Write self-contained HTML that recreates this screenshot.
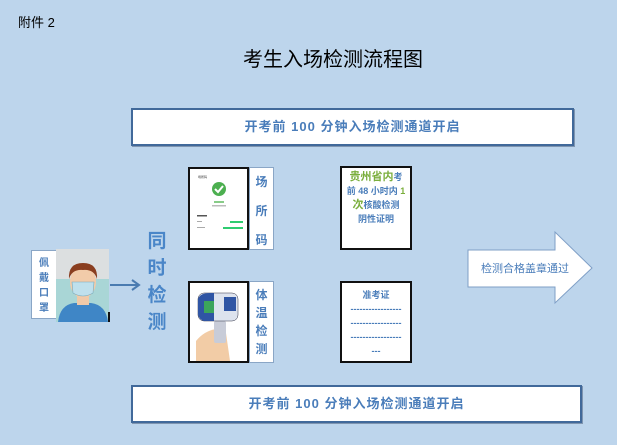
<!DOCTYPE html>
<html><head><meta charset="utf-8"><style>
body{margin:0;width:617px;height:445px;background:#bdd5ec;position:relative;overflow:hidden;font-family:"Liberation Sans","Noto Sans CJK SC",sans-serif}
.a{position:absolute}
.bar{background:#fff;border:2px solid #41699a;box-shadow:1px 1px 0 #7f95b0;color:#4a7dba;font-weight:bold;font-size:13px;text-align:center;letter-spacing:1px;box-sizing:border-box}
.card{background:#fff;border:2px solid #111;box-sizing:border-box}
.lbl{background:#fff;border:1px solid #8aa6c6;box-sizing:border-box;color:#4a7dba;font-weight:bold;font-size:11px;text-align:center}
</style></head><body>
<div class="a" style="left:18px;top:12px;font-size:13px">附件 2</div>
<div class="a" style="left:243px;top:43px;font-size:20px">考生入场检测流程图</div>
<div class="a bar" style="left:131px;top:108px;width:443px;height:38px;line-height:34px">开考前 100 分钟入场检测通道开启</div>
<div class="a bar" style="left:131px;top:385px;width:451px;height:38px;line-height:34px">开考前 100 分钟入场检测通道开启</div>

<div class="a lbl" style="left:31px;top:250px;width:26px;height:69px;padding-top:5px;line-height:15px;font-size:10px">佩<br>戴<br>口<br>罩</div>
<svg class="a" style="left:56px;top:249px" width="56" height="74">
<rect width="53" height="73" fill="#dcdfe0"/><rect y="30" width="53" height="43" fill="#a9d6d6"/>
<path d="M2 73 Q4 56 18 54 L35 54 Q50 56 52 73Z" fill="#3f86c6"/>
<rect x="21" y="44" width="12" height="12" fill="#f0c9a8"/>
<ellipse cx="27" cy="33" rx="13" ry="16" fill="#f2cba9"/>
<path d="M13 30 Q12 14 27 14 Q42 14 41 30 Q38 20 27 21 Q16 20 13 30Z" fill="#8a3e1f"/>
<path d="M16 33 L38 33 L37 44 Q27 50 17 44Z" fill="#bfe0ec" stroke="#7ab" stroke-width=".6"/>
<rect x="52" y="63" width="2" height="10" fill="#111"/>
</svg>
<svg class="a" style="left:108px;top:278px" width="34" height="14"><line x1="2" y1="7" x2="30" y2="7" stroke="#4a7bb0" stroke-width="2"/><path d="M24 2 L31 7 L24 12" fill="none" stroke="#4a7bb0" stroke-width="2"/></svg>
<div class="a" style="left:146px;top:228px;width:22px;color:#4a86c8;font-weight:bold;font-size:19px;line-height:27px;text-align:center">同<br>时<br>检<br>测</div>

<div class="a card" style="left:188px;top:167px;width:61px;height:83px">
<svg width="57" height="79"><text x="8" y="9" font-size="3" fill="#333">场所码</text><circle cx="29" cy="20" r="7" fill="#4caf50"/><path d="M25 20 L28 23 L33 17" stroke="#fff" stroke-width="2" fill="none"/><rect x="24" y="32" width="10" height="2" fill="#8c8"/><rect x="22" y="36" width="14" height="1.5" fill="#bbb"/><rect x="7" y="46" width="10" height="1.5" fill="#555"/><rect x="40" y="52" width="13" height="2" fill="#2ecc71"/><rect x="33" y="58" width="20" height="2" fill="#2ecc71"/><rect x="7" y="52" width="5" height="1" fill="#aaa"/><rect x="7" y="58" width="8" height="1" fill="#aaa"/></svg></div>
<div class="a lbl" style="left:249px;top:167px;width:25px;height:83px;padding-top:0px;line-height:29px;font-size:12px">场<br>所<br>码</div>
<div class="a card" style="left:188px;top:281px;width:61px;height:82px">
<svg width="57" height="78"><path d="M6 78 L6 58 Q14 48 26 46 L36 50 L40 78Z" fill="#f2cca6"/><rect x="24" y="38" width="12" height="22" fill="#c8ccd8" rx="2"/><rect x="8" y="10" width="40" height="28" rx="6" fill="#dde3ee" stroke="#334" stroke-width=".5"/><path d="M8 16 Q10 10 20 10 L24 10 L24 38 L14 38 Q8 36 8 30Z" fill="#2f55a4"/><rect x="14" y="18" width="10" height="12" fill="#3ca55c"/><rect x="34" y="14" width="12" height="14" fill="#2f55a4"/></svg></div>
<div class="a lbl" style="left:249px;top:281px;width:25px;height:82px;padding-top:4px;line-height:18px;font-size:12px">体<br>温<br>检<br>测</div>

<div class="a card" style="left:340px;top:166px;width:72px;height:84px;text-align:center;font-weight:bold;color:#4a7dba;font-size:9px;line-height:14px;padding-top:2px">
<span style="color:#7aae3c;font-size:11px">贵州省内</span>考<br>前 48 小时内 <span style="color:#7aae3c">1</span><br><span style="color:#7aae3c;font-size:11px">次</span>核酸检测<br>阴性证明</div>
<div class="a card" style="left:340px;top:281px;width:72px;height:82px;text-align:center;font-weight:bold;color:#4a7dba;font-size:9px;line-height:14px;padding-top:5px">
准考证<br>-----------------<br>-----------------<br>-----------------<br>---</div>

<svg class="a" style="left:466px;top:230px" width="130" height="76"><path d="M2 20 L89 20 L89 2 L126 38 L89 73 L89 57 L2 57Z" fill="#fff" stroke="#7f9fc6" stroke-width="1"/><text x="15" y="42" font-size="11" fill="#4a7dba" font-family="Liberation Sans,Noto Sans CJK SC,sans-serif">检测合格盖章通过</text></svg>
</body></html>
